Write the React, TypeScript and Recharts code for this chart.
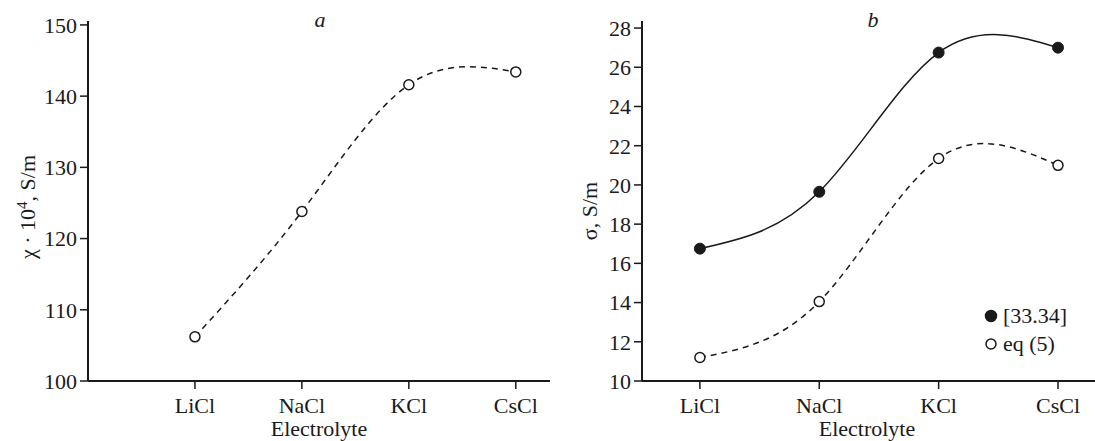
import React from 'react'
import { LineChart, Line, XAxis, YAxis, Legend } from 'recharts'

const categories = ['LiCl', 'NaCl', 'KCl', 'CsCl']
const categoryPos = [1, 2, 3, 4]
const chiValues = [106.2, 123.8, 141.6, 143.4]
const sigmaRef = [16.75, 19.65, 26.75, 27.0]
const sigmaEq5 = [11.2, 14.05, 21.35, 21.0]
const chiTicks = [100, 110, 120, 130, 140, 150]
const sigmaTicks = [10, 12, 14, 16, 18, 20, 22, 24, 26, 28]
const legendItems = [
  { label: '[33.34]', filled: true },
  { label: 'eq (5)', filled: false },
]

const FONT = "'Liberation Serif', 'Times New Roman', serif"
const FONT_SIZE = 22
const INK = '#1a1a1a'

const chiData = categoryPos.map((x, i) => ({ x, chi: chiValues[i] }))
const sigmaData = categoryPos.map((x, i) => ({ x, ref: sigmaRef[i], eq5: sigmaEq5[i] }))

const textStyle = { fontFamily: FONT, fontSize: FONT_SIZE, fill: INK }
const tickStyle = { fontFamily: FONT, fontSize: FONT_SIZE, fill: INK }
const axisLine = { stroke: INK, strokeWidth: 2 }
const tickLine = { stroke: INK, strokeWidth: 1.5 }
const catName = (v: number) => categories[Math.round(v) - 1] ?? ''

const openDot = { r: 5, fill: '#fff', stroke: INK, strokeWidth: 1.5, strokeDasharray: '0' }
const filledDot = { r: 5.5, fill: INK, stroke: INK, strokeWidth: 1, strokeDasharray: '0' }

const renderLegend = () => (
  <div style={{ fontFamily: FONT, fontSize: FONT_SIZE, color: INK, lineHeight: '28px' }}>
    {legendItems.map((item) => (
      <div key={item.label} style={{ display: 'flex', alignItems: 'center' }}>
        <svg width={14} height={14} style={{ marginRight: 5 }}>
          <circle
            cx={7}
            cy={7}
            r={item.filled ? 5.5 : 5}
            fill={item.filled ? INK : '#fff'}
            stroke={INK}
            strokeWidth={1.5}
          />
        </svg>
        <span style={{ fontFamily: FONT }}>{item.label}</span>
      </div>
    ))}
  </div>
)

export default function App() {
  return (
    <div style={{ position: 'absolute', left: 0, top: 0, width: 1095, height: 441, background: '#fff' }}>
      <div style={{ position: 'absolute', left: 0, top: 0 }}>
        <LineChart width={560} height={441} data={chiData} margin={{ top: 21, right: 10, bottom: 10, left: 28 }}>
          <XAxis
            dataKey="x"
            type="number"
            domain={[0, 4.32]}
            allowDataOverflow
            ticks={categoryPos}
            tickFormatter={catName}
            tick={tickStyle}
            tickSize={8}
            tickMargin={8}
            axisLine={axisLine}
            tickLine={tickLine}
            height={50}
          />
          <YAxis
            type="number"
            domain={[100, 150.55]}
            allowDataOverflow
            ticks={chiTicks}
            tick={tickStyle}
            tickSize={8}
            tickMargin={3}
            axisLine={axisLine}
            tickLine={tickLine}
            width={60}
          />
          <Line
            dataKey="chi"
            type="natural"
            stroke={INK}
            strokeWidth={1.5}
            strokeDasharray="6 5"
            dot={openDot}
            activeDot={false}
            isAnimationActive={false}
          />
          <text x={320} y={27} textAnchor="middle" style={{ ...textStyle, fontStyle: 'italic' }}>
            a
          </text>
          <text x={319} y={436} textAnchor="middle" style={textStyle}>
            Electrolyte
          </text>
          <text x={35} y={207} transform="rotate(-90 35 207)" textAnchor="middle" style={textStyle}>
            χ · 10<tspan dy={-8} style={{ fontSize: 15 }}>4</tspan>
            <tspan dy={8}>, S/m</tspan>
          </text>
        </LineChart>
      </div>
      <div style={{ position: 'absolute', left: 560, top: 0 }}>
        <LineChart width={535} height={441} data={sigmaData} margin={{ top: 21, right: 0, bottom: 10, left: 22 }}>
          <XAxis
            dataKey="x"
            type="number"
            domain={[0.515, 4.31]}
            allowDataOverflow
            ticks={categoryPos}
            tickFormatter={catName}
            tick={tickStyle}
            tickSize={8}
            tickMargin={8}
            axisLine={axisLine}
            tickLine={tickLine}
            height={50}
          />
          <YAxis
            type="number"
            domain={[10, 28.36]}
            allowDataOverflow
            ticks={sigmaTicks}
            tick={tickStyle}
            tickSize={8}
            tickMargin={3}
            axisLine={axisLine}
            tickLine={tickLine}
            width={60}
          />
          <Line
            dataKey="ref"
            type="natural"
            stroke={INK}
            strokeWidth={1.5}
            dot={filledDot}
            activeDot={false}
            isAnimationActive={false}
          />
          <Line
            dataKey="eq5"
            type="natural"
            stroke={INK}
            strokeWidth={1.5}
            strokeDasharray="6 5"
            dot={openDot}
            activeDot={false}
            isAnimationActive={false}
          />
          <Legend
            layout="vertical"
            align="center"
            verticalAlign="middle"
            content={renderLegend}
            wrapperStyle={{ position: 'absolute', left: 424, top: 302, width: 'auto' }}
          />
          <text x={313} y={27} textAnchor="middle" style={{ ...textStyle, fontStyle: 'italic' }}>
            b
          </text>
          <text x={307} y={436} textAnchor="middle" style={textStyle}>
            Electrolyte
          </text>
          <text x={37} y={211} transform="rotate(-90 37 211)" textAnchor="middle" style={textStyle}>
            σ, S/m
          </text>
        </LineChart>
      </div>
    </div>
  )
}
